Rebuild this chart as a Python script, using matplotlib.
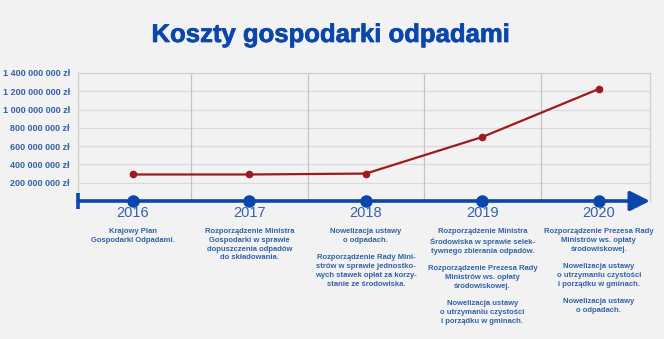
import numpy as np
import matplotlib.pyplot as plt
import matplotlib.transforms as mtransforms
import matplotlib.patheffects as pe

# dane
lata = ['2016', '2017', '2018', '2019', '2020']
koszty = [290e6, 290e6, 300e6, 700e6, 1225e6]
yticks = [200e6, 400e6, 600e6, 800e6, 1000e6, 1200e6, 1400e6]
opisy = [
    "Krajowy Plan\nGospodarki Odpadami.",
    "Rozporządzenie Ministra\nGospodarki w sprawie\ndopuszczenia odpadów\ndo składowania.",
    "Nowelizacja ustawy\no odpadach.\n\nRozporządzenie Rady Mini-\nstrów w sprawie jednostko-\nwych stawek opłat za korzy-\nstanie ze środowiska.",
    "Rozporządzenie Ministra\nŚrodowiska w sprawie selek-\ntywnego zbierania odpadów.\n\nRozporządzenie Prezesa Rady\nMinistrów ws. opłaty\nśrodowiskowej.\n\nNowelizacja ustawy\no utrzymaniu czystości\ni porządku w gminach.",
    "Rozporządzenie Prezesa Rady\nMinistrów ws. opłaty\nśrodowiskowej.\n\nNowelizacja ustawy\no utrzymaniu czystości\ni porządku w gminach.\n\nNowelizacja ustawy\no odpadach.",
]

bg = '#f2f2f2'
niebieski = '#0b46ad'
tekst = '#3262a8'

plt.rcParams['font.family'] = ['Liberation Sans', 'DejaVu Sans']

W, H = 664, 339
fig = plt.figure(figsize=(W / 100, H / 100), dpi=100, facecolor=bg)
ax = fig.add_axes([78 / W, 1 - 201 / H, (650 - 78) / W, (201 - 73) / H], facecolor=bg)

x = np.arange(len(lata))
ax.set_xlim(-0.472, 4.44)
ax.set_ylim(0, 1.4e9)

# siatka
for yv in yticks:
    ax.axhline(yv, color='#dadada', lw=0.9, zorder=1)
for xv in x[:-1] + 0.5:
    ax.axvline(xv, color='#c4c4c4', lw=0.9, zorder=1)
for s in ['top', 'right', 'left']:
    ax.spines[s].set_color('#d0d0d0')
    ax.spines[s].set_linewidth(0.9)
ax.spines['bottom'].set_visible(False)

ax.set_yticks(yticks)
ax.set_yticklabels([f"{int(v):,} zł".replace(',', ' ') for v in yticks],
                   fontsize=6.5, fontweight='bold', color=tekst)
ax.tick_params(axis='y', length=0, pad=6)
ax.set_xticks([])

# linia kosztów
ax.plot(x, koszty, color='#9e1a1f', lw=1.6, marker='o', ms=4.5, zorder=4)

# oś czasu
ax.annotate('', xy=(4.44, 0), xytext=(-0.47, 0),
            arrowprops=dict(arrowstyle='-|>,head_width=0.6,head_length=1.2',
                            color=niebieski, lw=2.6, shrinkA=0, shrinkB=0),
            annotation_clip=False, zorder=5)
ax.plot([-0.47], [0], marker='|', ms=11, mew=2.6, color=niebieski, clip_on=False, zorder=5)
ax.plot(x, np.zeros(len(x)), 'o', ms=8, color=niebieski, clip_on=False, zorder=6)

tr = mtransforms.blended_transform_factory(ax.transData, fig.transFigure)
for xi, rok, opis in zip(x, lata, opisy):
    ax.text(xi, 1 - 213 / H, rok, transform=tr, ha='center', va='center',
            fontsize=10.5, color=tekst)
    ax.text(xi, 1 - 228 / H, opis, transform=tr, ha='center', va='top',
            fontsize=5.5, fontweight='bold', color=tekst, linespacing=1.36)

fig.text(331 / W, 1 - 35 / H, 'Koszty gospodarki odpadami', ha='center', va='center',
         fontsize=18.5, fontweight='bold', color=niebieski,
         path_effects=[pe.withStroke(linewidth=0.5, foreground=niebieski)])

fig.savefig('out.png', dpi=100, facecolor=bg)
